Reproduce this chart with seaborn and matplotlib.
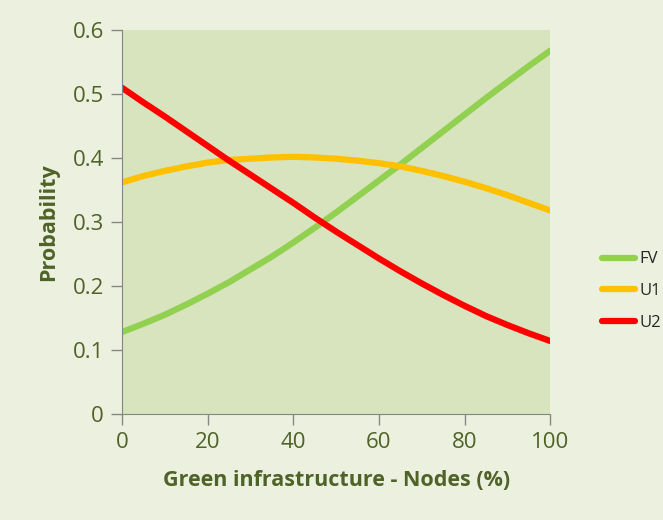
import pandas as pd
import matplotlib.pyplot as plt
import seaborn as sns

# values
nodes = [0, 5, 10, 15, 20, 25, 30, 35, 40, 45, 50,
         55, 60, 65, 70, 75, 80, 85, 90, 95, 100]
fv = [0.128, 0.141, 0.155, 0.171, 0.188, 0.206, 0.226, 0.246, 0.268, 0.291, 0.315,
      0.340, 0.365, 0.390, 0.416, 0.442, 0.468, 0.494, 0.519, 0.544, 0.568]
u1 = [0.362, 0.372, 0.380, 0.387, 0.393, 0.397, 0.399, 0.401, 0.402, 0.401, 0.399,
      0.396, 0.392, 0.387, 0.380, 0.372, 0.363, 0.353, 0.342, 0.330, 0.318]
u2 = [0.510, 0.487, 0.465, 0.442, 0.419, 0.396, 0.374, 0.352, 0.330, 0.307, 0.285,
      0.264, 0.243, 0.223, 0.204, 0.186, 0.169, 0.153, 0.139, 0.126, 0.114]

df = pd.concat([
    pd.DataFrame({'Nodes': nodes, 'Probability': fv, 'Class': 'FV'}),
    pd.DataFrame({'Nodes': nodes, 'Probability': u1, 'Class': 'U1'}),
    pd.DataFrame({'Nodes': nodes, 'Probability': u2, 'Class': 'U2'}),
])

sns.set_style('ticks')
plt.rcParams['font.family'] = ['Open Sans', 'DejaVu Sans']

olive = '#4f6228'
fig = plt.figure(figsize=(6.63, 5.2), dpi=100, facecolor='#ebf1de')
ax = fig.add_axes([0.184, 0.204, 0.646, 0.738])
ax.set_facecolor('#d7e4bd')

palette = {'FV': '#92d050', 'U1': '#ffc000', 'U2': '#ff0000'}
sns.lineplot(data=df, x='Nodes', y='Probability', hue='Class', palette=palette,
             linewidth=4.5, ax=ax, legend=False)

ax.set_xlim(0, 100)
ax.set_ylim(0, 0.6)
ax.set_xticks([0, 20, 40, 60, 80, 100])
ax.set_yticks([0, 0.1, 0.2, 0.3, 0.4, 0.5, 0.6])
ax.set_yticklabels(['0', '0.1', '0.2', '0.3', '0.4', '0.5', '0.6'])
ax.tick_params(axis='both', colors='#868686', labelcolor=olive, labelsize=16,
               length=8, width=1, pad=5)

for s in ['top', 'right']:
    ax.spines[s].set_visible(False)
for s in ['left', 'bottom']:
    ax.spines[s].set_color('#868686')

ax.set_xlabel('Green infrastructure - Nodes (%)', fontsize=15.5, fontweight='bold',
              color=olive, labelpad=12)
ax.set_ylabel('Probability', fontsize=15.5, fontweight='bold', color=olive, labelpad=10)

# legend drawn at the right, outside the plot area
handles = [plt.Line2D([], [], color=palette[k], linewidth=4.5, solid_capstyle='round')
           for k in ['FV', 'U1', 'U2']]
fig.legend(handles, ['FV', 'U1', 'U2'], loc='center left', bbox_to_anchor=(0.895, 0.44),
           frameon=False, fontsize=12, handlelength=2.0, handletextpad=0.25,
           labelspacing=0.95, borderpad=0, labelcolor='#262626')

fig.savefig('out.png', dpi=100, facecolor=fig.get_facecolor())
